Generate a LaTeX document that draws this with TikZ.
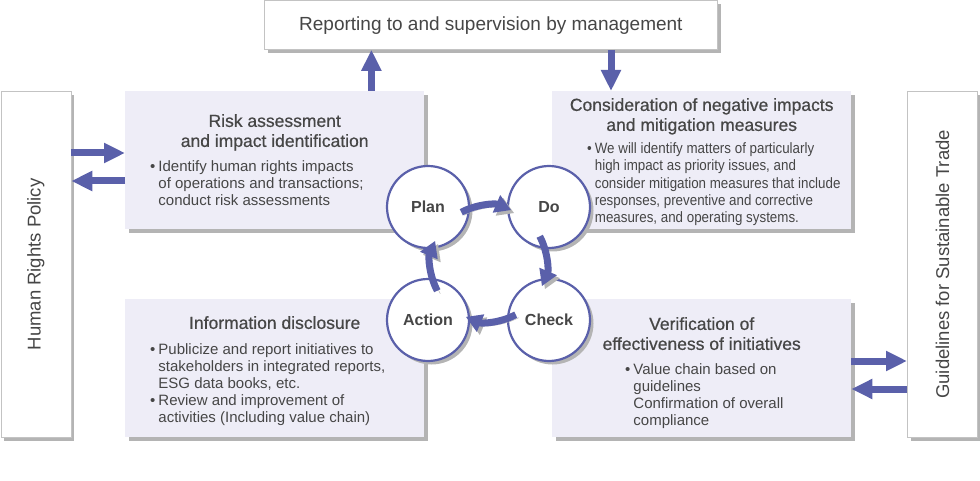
\documentclass[tikz,border=0pt]{standalone}
\usepackage{fontspec}
\setmainfont{Liberation Sans}
\newfontfamily\condfont[FakeStretch=0.89]{Liberation Sans}
\newfontfamily\medfont[BoldFont=Liberation Sans,BoldFeatures={FakeBold=0.6}]{Liberation Sans}
\usepackage{tikz}
\usetikzlibrary{positioning}
\usetikzlibrary{shadows,arrows.meta,calc}
\definecolor{pdcablue}{RGB}{90,96,170}
\definecolor{boxfill}{RGB}{238,237,247}
\definecolor{shadowgray}{RGB}{180,180,180}
\definecolor{edgegray}{RGB}{195,195,195}
\definecolor{textgray}{RGB}{70,70,70}
\newcommand{\blt}{\textbullet\hspace{3pt}}
\newcommand{\ind}{\hphantom{\blt}}

\begin{document}
\begin{tikzpicture}[x=1pt,y=1pt,
  boxshadow/.style={drop shadow={shadow xshift=3.5pt,shadow yshift=-3.5pt,fill=shadowgray,opacity=1}},
  framebox/.style={draw=edgegray,line width=0.8pt,fill=white,inner sep=0pt,anchor=north west,text=textgray,boxshadow},
  stepbox/.style={fill=boxfill,minimum width=299pt,minimum height=138pt,inner sep=0pt,anchor=north west,boxshadow},
  sidetxt/.style={rotate=90,text=textgray,font=\fontsize{18.5}{20}\selectfont,inner sep=0pt},
  head/.style={text=textgray,font=\medfont\bfseries\fontsize{17.5}{20}\selectfont,align=center,inner sep=0pt,anchor=north},
  body/.style={text=textgray,font=\fontsize{15}{17}\selectfont,align=left,inner sep=0pt,anchor=north west},
  phase/.style={circle,draw=pdcablue,line width=2.2pt,fill=white,minimum size=82pt,inner sep=0pt,
    text=textgray,font=\fontsize{16}{16}\selectfont\bfseries,boxshadow},
  bigarrow/.style={draw=pdcablue,line width=7pt,-{Triangle[width=19pt,length=21pt]}},
  cyclearrow/.style={draw=pdcablue,line width=7pt,-{Triangle[width=18pt,length=16pt]},
    preaction={draw=shadowgray,transform canvas={shift={(3pt,-3pt)}}}}]
\useasboundingbox (0,0) rectangle (980,-481);

% management and the two sides
\node[framebox,minimum width=453pt,minimum height=48.5pt,font=\fontsize{19}{19}\selectfont] (report) at (264,-0.5) {Reporting to and supervision by management};
\node[framebox,minimum width=70pt,minimum height=346pt] (policy) at (0.5,-91) {};
\node[framebox,minimum width=70pt,minimum height=346pt] (guide) at (907,-91) {};
\node[sidetxt] (policytxt) at (policy) {Human Rights Policy};
\node[sidetxt] (guidetxt) at (guide) {Guidelines for Sustainable Trade};

% the four steps
\node[stepbox] (risk) at (125,-91) {};
\node[stepbox] (consider) at (552,-91) {};
\node[stepbox] (info) at (125,-299) {};
\node[stepbox] (verify) at (552,-299) {};

\node[head,below=23pt of risk.north] (riskhead) {Risk assessment\\and impact identification};
\node[body] (riskbody) at ([shift={(25pt,-69pt)}]risk.north west) {\blt Identify human rights impacts\\
  \ind of operations and transactions;\\
  \ind conduct risk assessments};

\node[head,below=7pt of consider.north] (considerhead) {Consideration of negative impacts\\and mitigation measures};
\node[body,font=\condfont\fontsize{15}{17.3}\selectfont] (considerbody) at ([shift={(35pt,-51.5pt)}]consider.north west) {\blt We will identify matters of particularly\\
  \ind high impact as priority issues, and\\
  \ind consider mitigation measures that include\\
  \ind responses, preventive and corrective\\
  \ind measures, and operating systems.};

\node[head,below=17pt of info.north] (infohead) {Information disclosure};
\node[body] (infobody) at ([shift={(25pt,-44pt)}]info.north west) {\blt Publicize and report initiatives to\\
  \ind stakeholders in integrated reports,\\
  \ind ESG data books, etc.\\
  \blt Review and improvement of\\
  \ind activities (Including value chain)};

\node[head,below=18pt of verify.north] (verifyhead) {Verification of\\effectiveness of initiatives};
\node[body] (verifybody) at ([shift={(73pt,-64pt)}]verify.north west) {\blt Value chain based on\\
  \ind guidelines\\
  \ind Confirmation of overall\\
  \ind compliance};

% arrows between boxes
\coordinate (upx) at ([xshift=-53pt]risk.north east);
\coordinate (dnx) at ([xshift=59pt]consider.north west);
\draw[bigarrow] (upx) -- (upx |- report.south);
\draw[bigarrow] (dnx |- report.south) -- (dnx);
\coordinate (rin) at ([yshift=-62pt]risk.north west);
\coordinate (rout) at ([yshift=-90pt]risk.north west);
\draw[bigarrow] (rin -| policy.east) -- (rin);
\draw[bigarrow] (rout) -- (rout -| policy.east);
\coordinate (vout) at ([yshift=-62pt]verify.north east);
\coordinate (vin) at ([yshift=-90pt]verify.north east);
\draw[bigarrow] (vout) -- (vout -| guide.west);
\draw[bigarrow] (vin -| guide.west) -- (vin);

% PDCA cycle
\node[phase] (plan) at (428,-207) {Plan};
\node[phase] (do) at (549,-207) {Do};
\node[phase] (action) at (428,-320) {Action};
\node[phase] (check) at (549,-320) {Check};
\coordinate (pdca) at ($(plan)!0.5!(check)$);
\foreach \c in {90,0,-90,-180}
  \draw[cyclearrow] ([shift={(\c+28:58pt)}]pdca) arc[start angle=\c+28,end angle=\c-23,radius=58pt];
\end{tikzpicture}
\end{document}
